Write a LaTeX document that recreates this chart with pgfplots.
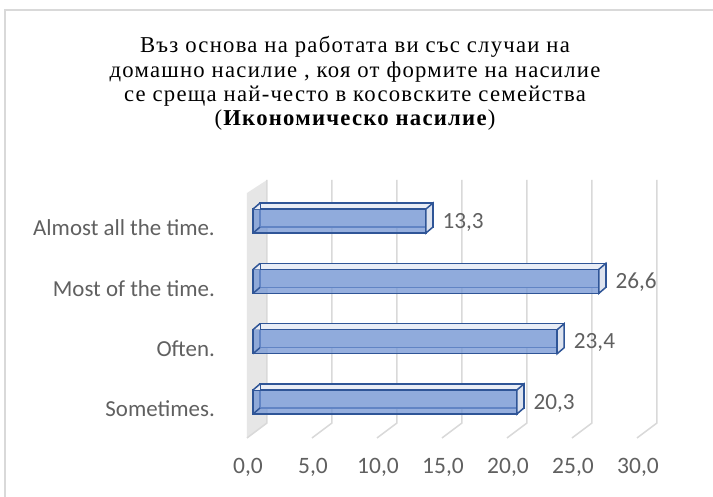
\documentclass[border=0pt]{standalone}
\usepackage{pgfplots}
\pgfplotsset{compat=1.18}
\usepackage{pgfplotstable}
\usepackage{fontspec}
\setmainfont{Carlito}
\newfontfamily\titlefont[LetterSpace=5.5]{Liberation Serif}
\definecolor{edgeblue}{HTML}{2F5597}
\definecolor{frontblue}{HTML}{7395D4}
\definecolor{topface}{HTML}{E9EDF6}
\definecolor{sideface}{HTML}{DDE3EF}
\definecolor{wallgray}{HTML}{E6E6E6}
\definecolor{gridgray}{HTML}{D9D9D9}
\definecolor{txtgray}{HTML}{606060}
\definecolor{bordergray}{HTML}{D9D9D9}

\pgfdeclareplotmark{sideface}{%
  \pgfpathmoveto{\pgfqpoint{0pt}{-12pt}}%
  \pgfpathlineto{\pgfqpoint{7pt}{-6pt}}%
  \pgfpathlineto{\pgfqpoint{7pt}{18pt}}%
  \pgfpathlineto{\pgfqpoint{0pt}{12pt}}%
  \pgfpathclose
  \pgfusepathqfillstroke}
\pgfdeclareplotmark{startcorner}{%
  \pgfpathmoveto{\pgfqpoint{0pt}{12pt}}%
  \pgfpathlineto{\pgfqpoint{7pt}{18pt}}%
  \pgfpathlineto{\pgfqpoint{7pt}{12pt}}%
  \pgfpathclose
  \pgfusepathqfill
  \pgfpathmoveto{\pgfqpoint{0pt}{12pt}}%
  \pgfpathlineto{\pgfqpoint{7pt}{18pt}}%
  \pgfpathmoveto{\pgfqpoint{0pt}{-12pt}}%
  \pgfpathlineto{\pgfqpoint{7pt}{-6pt}}%
  \pgfusepathqstroke}

\pgfplotstableread{
c v
0 20.3
1 23.4
2 26.6
3 13.3
}\data

\begin{document}
\begin{tikzpicture}[x=1pt,y=1pt]
\useasboundingbox (0,0) rectangle (713,497);
\fill[white] (0,0) rectangle (713,497);
\draw[bordergray, line width=1.5pt] (5,0) -- (5,487) -- (713,487);
% title
\begin{scope}[every node/.style={anchor=base, inner sep=0pt, font=\titlefont\fontsize{22.7}{24}\selectfont}]
\node at (355,444) {Въз основа на работата ви със случаи на};
\node at (355,419.7) {домашно насилие , коя от формите на насилие};
\node at (355,395.4) {се среща най-често в косовските семейства};
\node at (355,371) {(\textbf{Икономическо насилие})};
\end{scope}
\begin{axis}[
  at={(233.5pt,52.79pt)}, anchor=south west,
  scale only axis, width=435.5pt, height=271.35pt,
  xmin=-1.5, xmax=32, ymin=-0.7, ymax=3.8,
  clip=false,
  axis line style={draw=none},
  tick style={draw=none},
  xtick={0,5,...,30},
  ytick={0,1,2,3},
  yticklabels={Sometimes., Often., Most of the time., Almost all the time.},
  /pgf/number format/.cd, fixed, fixed zerofill, precision=1, use comma, assume math mode=true,
  /pgfplots/.cd,
  ticklabel style={text=txtgray},
  xticklabel style={inner sep=0pt, anchor=center, xshift=-5pt, yshift=-22.8pt, font=\fontsize{23.5}{27}\selectfont},
  yticklabel style={inner sep=0pt, anchor=east, xshift=-18.5pt, yshift=-7pt, font=\fontsize{22.9}{27}\selectfont},
]
% back wall
\fill[wallgray] ([shift={(-6pt,209pt)}]axis cs:0,0) -- ([shift={(14pt,222pt)}]axis cs:0,0)
   -- ([shift={(14pt,-21pt)}]axis cs:0,0) -- ([shift={(-6pt,-36pt)}]axis cs:0,0) -- cycle;
\pgfplotsinvokeforeach{0,5,10,15,20,25,30}{
  \draw[gridgray, line width=1.5pt] ([shift={(14pt,222pt)}]axis cs:#1,0) -- ([shift={(14pt,-21pt)}]axis cs:#1,0)
     -- ([shift={(-6pt,-36pt)}]axis cs:#1,0);
}
% back face
\addplot[xbar, bar width=24pt, bar shift=0pt, xshift=7pt, yshift=6pt,
  fill=topface, draw=edgeblue, line width=1.5pt] table[x=v, y=c] {\data};
% front face
\addplot[xbar, bar width=24pt, bar shift=0pt,
  fill=frontblue, fill opacity=0.75, draw=edgeblue, draw opacity=1, line width=1.5pt,
  point meta=x,
  nodes near coords={\pgfmathprintnumber[fixed,fixed zerofill,precision=1,use comma,assume math mode=true]{\pgfplotspointmeta}},
  nodes near coords style={anchor=west, inner sep=0pt, xshift=16pt, yshift=-1pt, text=txtgray, text opacity=1, fill opacity=1,
     font=\fontsize{23.2}{27}\selectfont}] table[x=v, y=c] {\data};
% side faces
\addplot[only marks, mark=sideface, mark options={fill=sideface, draw=edgeblue, line width=1.5pt}] table[x=v, y=c] {\data};
% left corners
\addplot[only marks, mark=startcorner, mark options={fill=topface, draw=edgeblue, line width=1.5pt}]
  coordinates {(0,0) (0,1) (0,2) (0,3)};
\end{axis}
\end{tikzpicture}
\end{document}
